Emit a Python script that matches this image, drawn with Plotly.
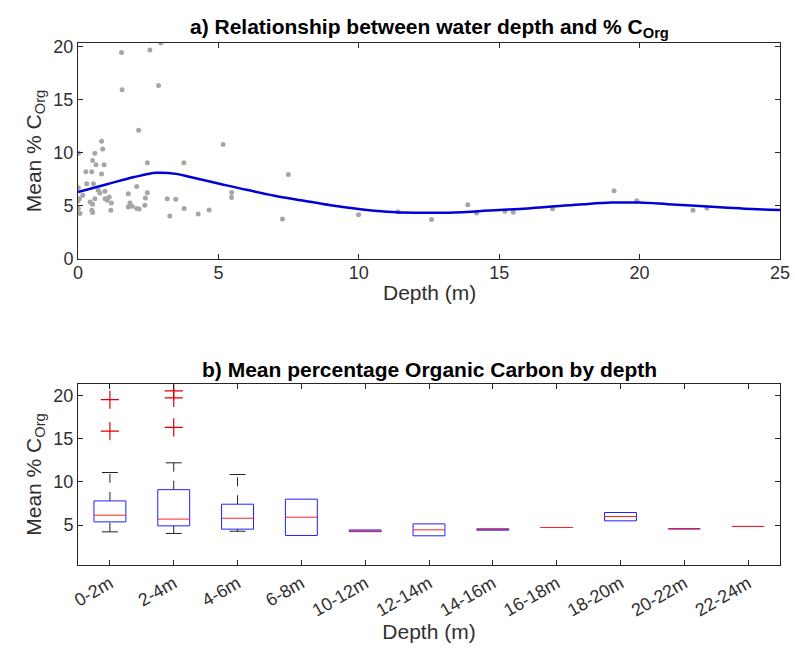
import plotly.graph_objects as go

# ---------------- Data ----------------
# Panel a: individual samples (depth in m, mean % C_org)
depth_pts = [0.84, 0.88, 0.60, 0.52, 0.93, 0.64, 0.28, 0.49, 0.84, 0.02,
             0.31, 0.55, 0.01, 0.72, 0.78, 0.96, 0.17, 0.05, 0.00, 0.43,
             0.60, 0.52, 0.96, 1.04, 1.11, 1.19, 1.17, 0.49, 0.52, 0.07,
             0.01, 1.79, 2.09, 2.47, 2.47, 2.40, 2.38, 1.85, 1.93, 1.79,
             2.09, 2.18, 3.18, 3.48, 3.27, 3.77, 3.78, 4.28, 4.67, 5.17,
             5.47, 5.47, 7.28, 7.49, 1.55, 2.56, 2.95, 1.57, 2.87, 2.16,
             9.99, 11.4, 12.59, 13.88, 14.19, 15.2, 15.5, 16.9, 19.09, 19.9,
             21.9, 22.4]
corg_pts = [11.06, 10.34, 9.93, 9.25, 8.85, 8.85, 8.20, 8.20, 8.00, 9.93,
            7.07, 7.07, 6.70, 6.45, 6.20, 6.36, 5.98, 5.67, 5.45, 5.36,
            5.67, 5.14, 5.67, 5.51, 5.82, 5.26, 4.58, 4.58, 4.36, 4.27,
            4.74, 6.14, 6.82, 9.04, 6.23, 5.73, 5.05, 5.26, 4.95, 4.89,
            4.74, 4.70, 5.67, 5.61, 4.05, 9.04, 4.74, 4.24, 4.61, 10.75,
            6.26, 5.79, 3.77, 7.94, 19.4, 19.65, 20.3, 15.9, 16.3, 12.1,
            4.17, 4.45, 3.71, 5.11, 4.33, 4.49, 4.40, 4.73, 6.42, 5.48,
            4.58, 4.80]

# Panel a: smoothed fit
fit_depth = [0, 1, 2, 2.8, 3.5, 4, 5, 6, 7, 8, 9, 10, 11, 12, 13, 14, 15,
             16, 17, 18, 19, 20, 21, 22, 23, 24, 25]
fit_corg = [6.3, 7.0, 7.7, 8.1, 8.0, 7.7, 7.1, 6.5, 5.95, 5.5, 5.05, 4.7,
            4.45, 4.35, 4.35, 4.45, 4.6, 4.75, 4.95, 5.15, 5.3, 5.3, 5.15,
            5.0, 4.85, 4.7, 4.6]

# Panel b: box plot statistics per depth class
box_labels = ["0-2m", "2-4m", "4-6m", "6-8m", "10-12m", "12-14m", "14-16m",
              "16-18m", "18-20m", "20-22m", "22-24m"]
box_q1 = [5.38, 4.92, 4.54, 3.81, 4.25, 3.77, 4.42, 4.73, 5.50, 4.58, 4.85]
box_med = [6.15, 5.70, 5.80, 5.92, 4.35, 4.46, 4.50, 4.73, 6.00, 4.58, 4.85]
box_q3 = [7.80, 9.10, 7.42, 8.00, 4.45, 5.15, 4.58, 4.73, 6.46, 4.58, 4.85]
box_wlo = [4.23, 4.04, 4.30, 3.81, 4.25, 3.77, 4.42, 4.73, 5.50, 4.58, 4.85]
box_whi = [11.08, 12.2, 10.85, 8.00, 4.45, 5.15, 4.58, 4.73, 6.46, 4.58, 4.85]
outlier_cat = [1, 1, 2, 2, 2]
outlier_val = [19.5, 15.85, 20.5, 19.7, 16.3]

# ---------------- Styling ----------------
FONT = "Liberation Sans, Arial, Helvetica, sans-serif"
AX = "#262626"
TXT = "#303030"
BOX_W = 0.25   # half-width of box
CAP_W = 0.125  # half-width of whisker caps
TICK_SIZE = 18
LAB_SIZE = 21
TITLE_SIZE = 21

fig = go.Figure()

# Panel a
fig.add_trace(go.Scatter(x=depth_pts, y=corg_pts, mode="markers",
                         marker=dict(color="#a6a6a6", size=5),
                         xaxis="x", yaxis="y", showlegend=False))
fig.add_trace(go.Scatter(x=fit_depth, y=fit_corg, mode="lines",
                         line=dict(color="#0000d8", width=2.5, shape="spline", smoothing=1.0),
                         xaxis="x", yaxis="y", showlegend=False))

# Panel b: build box-plot glyphs from stats
bx, by = [], []
mx, my = [], []
wx, wy = [], []
cx, cy = [], []
for i in range(len(box_labels)):
    p = i + 1
    bx += [p - BOX_W, p + BOX_W, p + BOX_W, p - BOX_W, p - BOX_W, None]
    by += [box_q1[i], box_q1[i], box_q3[i], box_q3[i], box_q1[i], None]
    mx += [p - BOX_W, p + BOX_W, None]
    my += [box_med[i], box_med[i], None]
    if box_whi[i] > box_q3[i]:
        wx += [p, p, None]
        wy += [box_q3[i], box_whi[i], None]
        cx += [p - CAP_W, p + CAP_W, None]
        cy += [box_whi[i], box_whi[i], None]
    if box_wlo[i] < box_q1[i]:
        wx += [p, p, None]
        wy += [box_wlo[i], box_q1[i], None]
        cx += [p - CAP_W, p + CAP_W, None]
        cy += [box_wlo[i], box_wlo[i], None]

fig.add_trace(go.Scatter(x=wx, y=wy, mode="lines", line=dict(color="#222222", width=1, dash="dash"),
                         xaxis="x2", yaxis="y2", showlegend=False))
fig.add_trace(go.Scatter(x=cx, y=cy, mode="lines", line=dict(color="#222222", width=1),
                         xaxis="x2", yaxis="y2", showlegend=False))
fig.add_trace(go.Scatter(x=bx, y=by, mode="lines", line=dict(color="#2020ff", width=1),
                         xaxis="x2", yaxis="y2", showlegend=False))
fig.add_trace(go.Scatter(x=mx, y=my, mode="lines", line=dict(color="#ff2020", width=1),
                         xaxis="x2", yaxis="y2", showlegend=False))
fig.add_trace(go.Scatter(x=outlier_cat, y=outlier_val, mode="markers",
                         marker=dict(symbol="cross-thin", size=13, line=dict(color="#e00000", width=1.2)),
                         xaxis="x2", yaxis="y2", showlegend=False))

axis_common = dict(showline=True, linecolor=AX, linewidth=1, mirror="ticks",
                   ticks="inside", ticklen=5, tickcolor=AX, showgrid=False, zeroline=False,
                   automargin=False,
                   tickfont=dict(family=FONT, size=TICK_SIZE, color=TXT))
lab_font = dict(family=FONT, size=LAB_SIZE, color=TXT)

top_a = 1.0
bot_a = (565 - 259) / 522
top_b = (565 - 384) / 522
xtitle_a_y = (565 - 292) / 522

fig.update_layout(
    width=795, height=660,
    margin=dict(l=78, r=15, t=43, b=95),
    paper_bgcolor="white", plot_bgcolor="white",
    font=dict(family=FONT, color=TXT),
    xaxis=dict(axis_common, domain=[0, 1], range=[0, 25], tickvals=[0, 5, 10, 15, 20, 25],
               anchor="y", ticklabelstandoff=-3),
    yaxis=dict(axis_common, domain=[bot_a, top_a], range=[0, 20.3], tickvals=[0, 5, 10, 15, 20],
               anchor="x",
               title=dict(text="Mean % C<sub>Org</sub>", font=lab_font, standoff=6)),
    xaxis2=dict(axis_common, domain=[0, 1], range=[0.5, 11.5],
                tickvals=list(range(1, len(box_labels) + 1)), ticktext=box_labels,
                tickangle=-30, anchor="y2",
                title=dict(text="Depth (m)", font=lab_font, standoff=2)),
    yaxis2=dict(axis_common, domain=[0, top_b], range=[0.4, 21.3], tickvals=[5, 10, 15, 20],
                anchor="x2",
                title=dict(text="Mean % C<sub>Org</sub>", font=lab_font, standoff=6)),
    annotations=[
        dict(text="<b>a) Relationship between water depth and % C<sub>Org</sub></b>",
             x=0.5, y=1.0, xref="paper", yref="paper", yanchor="bottom", yshift=0,
             showarrow=False, font=dict(family=FONT, size=TITLE_SIZE, color="#000000")),
        dict(text="Depth (m)", x=0.5, y=xtitle_a_y, xref="paper", yref="paper",
             yanchor="middle", showarrow=False, font=lab_font),
        dict(text="<b>b) Mean percentage Organic Carbon by depth</b>",
             x=0.5, y=top_b, xref="paper", yref="paper", yanchor="bottom", yshift=1,
             showarrow=False, font=dict(family=FONT, size=TITLE_SIZE, color="#000000")),
    ],
)

fig.write_html("out.html")
